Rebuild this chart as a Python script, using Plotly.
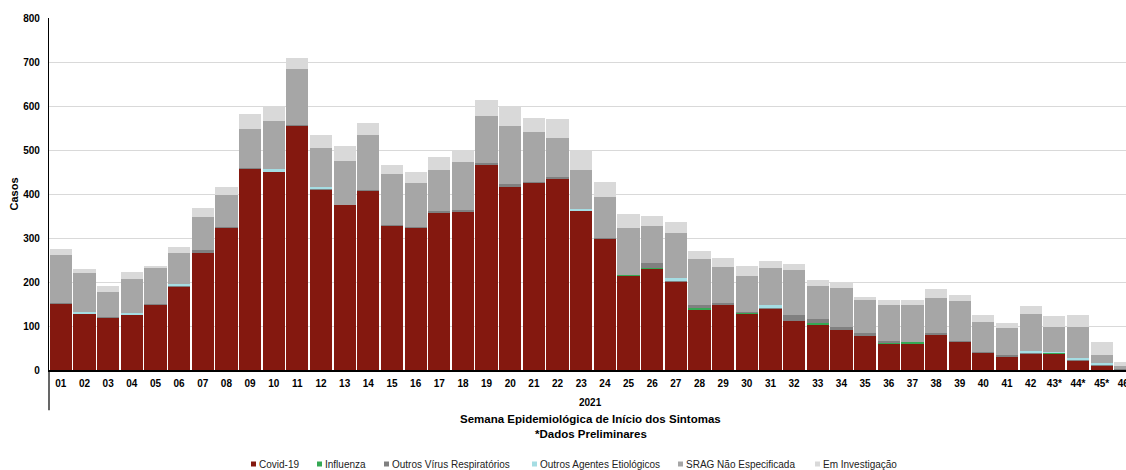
import plotly.graph_objects as go

# semanas epidemiológicas 2021
semanas = ["01", "02", "03", "04", "05", "06", "07", "08", "09", "10",
           "11", "12", "13", "14", "15", "16", "17", "18", "19", "20",
           "21", "22", "23", "24", "25", "26", "27", "28", "29", "30",
           "31", "32", "33", "34", "35", "36", "37", "38", "39", "40",
           "41", "42", "43*", "44*", "45*", "46*"]

covid = [150, 128, 119, 125, 148, 190, 266, 323, 458, 451,
         555, 411, 375, 408, 328, 324, 358, 361, 468, 416,
         427, 436, 362, 298, 214, 230, 200, 138, 147, 128,
         138, 112, 103, 92, 78, 61, 61, 81, 64, 39,
         31, 37, 37, 22, 11, 2]
influenza = [0, 0, 0, 0, 0, 0, 1, 0, 0, 0,
             0, 0, 0, 0, 0, 0, 0, 0, 0, 0,
             0, 0, 0, 0, 2, 1, 0, 4, 0, 2,
             0, 0, 3, 0, 0, 2, 2, 0, 0, 0,
             0, 0, 3, 0, 0, 0]
outros_virus = [3, 1, 1, 1, 2, 1, 6, 2, 1, 1,
                2, 1, 1, 2, 1, 2, 3, 3, 3, 6,
                1, 2, 1, 2, 1, 13, 4, 5, 5, 2,
                5, 13, 9, 5, 7, 3, 0, 4, 1, 2,
                4, 2, 0, 1, 1, 2]
outros_agentes = [0, 3, 0, 3, 0, 4, 0, 0, 0, 4,
                  0, 3, 0, 0, 0, 0, 0, 0, 0, 0,
                  0, 0, 4, 0, 0, 0, 4, 0, 0, 0,
                  4, 0, 0, 0, 0, 0, 0, 0, 0, 0,
                  0, 4, 2, 4, 4, 0]
srag_nao_espec = [109, 88, 58, 77, 81, 72, 75, 73, 89, 110,
                  126, 90, 99, 123, 116, 100, 94, 109, 106, 133,
                  113, 89, 88, 94, 106, 83, 103, 105, 82, 82,
                  84, 102, 77, 90, 75, 82, 85, 79, 91, 69,
                  60, 85, 56, 71, 19, 4]
em_investigacao = [14, 9, 13, 17, 6, 12, 20, 19, 33, 32,
                   25, 29, 34, 28, 20, 24, 29, 28, 37, 43,
                   32, 43, 45, 34, 31, 23, 25, 18, 20, 22,
                   17, 15, 12, 13, 6, 11, 11, 20, 14, 16,
                   11, 17, 25, 28, 28, 10]

series = [
    ("Covid-19", covid, "#84180F"),
    ("Influenza", influenza, "#34A853"),
    ("Outros Vírus Respiratórios", outros_virus, "#808080"),
    ("Outros Agentes Etiológicos", outros_agentes, "#A5DDE3"),
    ("SRAG Não Especificada", srag_nao_espec, "#A6A6A6"),
    ("Em Investigação", em_investigacao, "#D9D9D9"),
]

fig = go.Figure()
for nome, valores, cor in series:
    fig.add_trace(go.Bar(x=semanas, y=valores, name=nome,
                         marker=dict(color=cor, line=dict(width=0))))

fig.update_layout(
    barmode="stack",
    bargap=0.06,
    width=1126, height=470,
    margin=dict(l=49, r=0, t=18, b=100),
    plot_bgcolor="white", paper_bgcolor="white",
    font=dict(family="Liberation Sans, Arial, sans-serif", color="#000000"),
    showlegend=False,
    xaxis=dict(type="category", range=[-0.5, 45.03], showgrid=False, automargin=False,
               showline=True, linecolor="#000000", linewidth=1.5,
               tickfont=dict(size=10, family="Liberation Sans, Arial", weight="bold"),
               ticks="", ticklabelstandoff=3),
    yaxis=dict(range=[0, 800], dtick=100, showgrid=True, gridcolor="#D9D9D9", gridwidth=1,
               showline=True, linecolor="#000000", linewidth=1.2, zeroline=False, automargin=False,
               tickfont=dict(size=10, family="Liberation Sans, Arial", weight="bold"),
               ticklabelstandoff=6,
               title=dict(text="<b>Casos</b>", font=dict(size=11), standoff=2)),
)

# linha divisória do eixo de categorias (estilo Excel)
fig.add_shape(type="line", xref="paper", yref="paper", x0=0, x1=0, y0=0, y1=-0.114,
              line=dict(color="#000000", width=1.2))

fig.add_annotation(text="<b>2021</b>", xref="paper", yref="paper", x=0.503, y=-0.091,
                   showarrow=False, font=dict(size=10), yanchor="middle")
fig.add_annotation(text="<b>Semana Epidemiológica de Início dos Sintomas</b>", xref="paper", yref="paper",
                   x=0.503, y=-0.139, showarrow=False, font=dict(size=11.5), yanchor="middle")
fig.add_annotation(text="<b>*Dados Preliminares</b>", xref="paper", yref="paper",
                   x=0.503, y=-0.182, showarrow=False, font=dict(size=11.5), yanchor="middle")

# legenda no estilo Excel: pequeno quadrado + texto
leg_px = [251, 317, 384, 532, 678, 815]
leg_y = -(464 - 370) / 352
for (nome, _, cor), px in zip(series, leg_px):
    x0 = (px - 49) / 1077
    fig.add_shape(type="rect", xref="paper", yref="paper",
                  x0=x0, x1=x0 + 5 / 1077, y0=leg_y - 2.5 / 352, y1=leg_y + 2.5 / 352,
                  fillcolor=cor, line=dict(width=0))
    fig.add_annotation(text=nome, xref="paper", yref="paper", x=x0 + 6 / 1077, y=leg_y,
                       xanchor="left", yanchor="middle", showarrow=False,
                       font=dict(size=10, color="#222222"))

fig.write_html("out.html", config={"displayModeBar": False},
               post_script="document.body.style.margin='0px';document.body.style.overflow='hidden';")
